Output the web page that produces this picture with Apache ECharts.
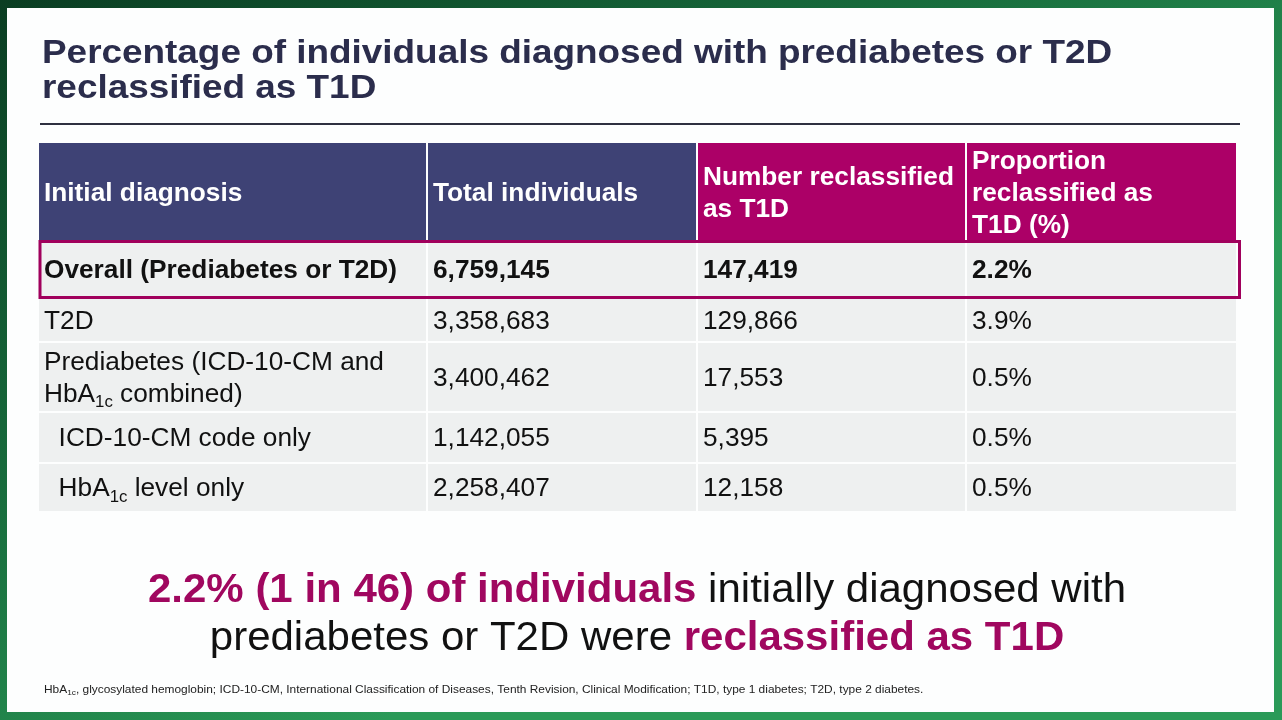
<!DOCTYPE html>
<html>
<head>
<meta charset="utf-8">
<title>Percentage reclassified as T1D</title>
<script src="https://cdn.jsdelivr.net/npm/echarts@6/dist/echarts.min.js"></script>
<style>
  html, body { margin: 0; padding: 0; }
  #chart { width: 1282px; height: 720px; }
</style>
</head>
<body>
<div id="chart"></div>
<script>
(function () {
  'use strict';

  var headers = ['Initial diagnosis', 'Total individuals', 'Number reclassified\nas T1D', 'Proportion\nreclassified as\nT1D (%)'];
  var diagnoses = ['Overall (Prediabetes or T2D)', 'T2D', 'Prediabetes (ICD-10-CM and\nHbA{sub|1c} combined)', '  ICD-10-CM code only', '  HbA{sub|1c} level only'];
  var totals = [6759145, 3358683, 3400462, 1142055, 2258407];
  var reclassified = [147419, 129866, 17553, 5395, 12158];
  var proportions = [2.2, 3.9, 0.5, 0.5, 0.5];
  var highlightRow = 0;

  // table layout, pixels from the table's top-left corner
  var colEdges = [0, 389, 659, 928, 1199];
  var rowEdges = [0, 99, 156, 200, 270, 321, 370];

  var FONT = '"Liberation Sans", Arial, sans-serif';
  var NAVY = '#3e4275';
  var MAGENTA = '#ac0067';
  var TEXT_MAGENTA = '#a0075f';
  // the slide was captured slightly stretched sideways
  var STRETCH = 1.05;

  function fmt(n) {
    return n.toLocaleString('en-US');
  }

  // one entry per cell: [col, row]
  var cells = [];
  headers.forEach(function (h, c) {
    cells.push({ value: [c, 0], text: h, header: true });
  });
  diagnoses.forEach(function (d, i) {
    var row = [d, fmt(totals[i]), fmt(reclassified[i]), proportions[i].toFixed(1) + '%'];
    row.forEach(function (t, c) {
      cells.push({ value: [c, i + 1], text: t, bold: i === highlightRow });
    });
  });

  function cellBox(api, c, r, c2, r2) {
    var p0 = api.coord([colEdges[c], rowEdges[r]]);
    var p1 = api.coord([colEdges[c2], rowEdges[r2]]);
    return {
      x: p0[0],
      y: Math.min(p0[1], p1[1]),
      w: p1[0] - p0[0],
      h: Math.abs(p1[1] - p0[1])
    };
  }

  function renderCell(params, api) {
    var cell = cells[params.dataIndex];
    var c = cell.value[0];
    var r = cell.value[1];
    var b = cellBox(api, c, r, c + 1, r + 1);
    var fill = cell.header ? (c < 2 ? NAVY : MAGENTA) : '#eef0f0';
    var color = cell.header ? '#ffffff' : '#111111';
    var weight = (cell.header || cell.bold) ? 'bold' : 'normal';
    return {
      type: 'group',
      children: [{
        type: 'rect',
        shape: { x: b.x + 1, y: b.y + 1, width: b.w - 2, height: b.h - 2 },
        style: { fill: fill }
      }, {
        type: 'text',
        x: b.x + 6,
        y: b.y + b.h / 2 + (cell.header ? 3 : 2),
        scaleX: STRETCH,
        style: {
          text: cell.text,
          fill: color,
          fontSize: 25,
          fontWeight: weight,
          fontFamily: FONT,
          lineHeight: 32,
          align: 'left',
          verticalAlign: 'middle',
          rich: {
            sub: {
              fontSize: 16,
              fontFamily: FONT,
              fill: color,
              lineHeight: 16,
              verticalAlign: 'bottom'
            }
          }
        }
      }]
    };
  }

  function renderHighlight(params, api) {
    var r = api.value(0) + 1;
    var b = cellBox(api, 0, r, colEdges.length - 1, r + 1);
    return {
      type: 'rect',
      shape: { x: b.x + 2, y: b.y + 0.5, width: b.w + 0.5, height: b.h - 1 },
      style: { fill: null, stroke: '#a0005c', lineWidth: 3 }
    };
  }

  var statement = '{m|2.2% (1 in 46) of individuals} {n|initially diagnosed with}\n' +
    '{n|prediabetes or T2D were} {m|reclassified as T1D}';

  var footnote = 'HbA{s|1c}, glycosylated hemoglobin; ICD-10-CM, International Classification of Diseases, ' +
    'Tenth Revision, Clinical Modification; T1D, type 1 diabetes; T2D, type 2 diabetes.';

  var option = {
    animation: false,
    backgroundColor: {
      type: 'linear', x: 0, y: 0, x2: 0.3, y2: 1,
      colorStops: [
        { offset: 0, color: '#0a3d22' },
        { offset: 0.5, color: '#17693b' },
        { offset: 1, color: '#2a9a58' }
      ]
    },
    grid: { left: 38, top: 142, width: colEdges[4], height: rowEdges[6] },
    xAxis: { type: 'value', min: 0, max: colEdges[4], show: false },
    yAxis: { type: 'value', min: 0, max: rowEdges[6], inverse: true, show: false },
    graphic: [{
      type: 'rect',
      shape: { x: 7, y: 8, width: 1267, height: 704 },
      style: { fill: '#fdfefe' }
    }, {
      type: 'text',
      x: 42,
      y: 71.5,
      scaleX: 1.118,
      style: {
        text: 'Percentage of individuals diagnosed with prediabetes or T2D\nreclassified as T1D',
        fill: '#2b2d4c',
        fontSize: 33,
        fontWeight: 'bold',
        fontFamily: FONT,
        lineHeight: 34.5,
        verticalAlign: 'middle'
      }
    }, {
      type: 'line',
      shape: { x1: 40, y1: 124, x2: 1240, y2: 124 },
      style: { stroke: '#2e3040', lineWidth: 2 }
    }, {
      type: 'text',
      x: 637,
      y: 615,
      scaleX: STRETCH,
      style: {
        text: statement,
        align: 'center',
        verticalAlign: 'middle',
        fontSize: 40,
        fontFamily: FONT,
        fill: '#111111',
        lineHeight: 48,
        rich: {
          m: { fontSize: 40, fontFamily: FONT, fontWeight: 'bold', fill: TEXT_MAGENTA, lineHeight: 48 },
          n: { fontSize: 40, fontFamily: FONT, fill: '#111111', lineHeight: 48 }
        }
      }
    }, {
      type: 'text',
      x: 44,
      y: 690,
      scaleX: 1.035,
      style: {
        text: footnote,
        fontSize: 11.5,
        fontFamily: FONT,
        fill: '#222222',
        lineHeight: 14,
        verticalAlign: 'middle',
        rich: {
          s: { fontSize: 8, fontFamily: FONT, fill: '#222222', lineHeight: 8, verticalAlign: 'bottom' }
        }
      }
    }],
    series: [{
      type: 'custom',
      renderItem: renderCell,
      data: cells.map(function (cell) { return cell.value; }),
      z: 2
    }, {
      type: 'custom',
      renderItem: renderHighlight,
      data: [[highlightRow]],
      z: 3
    }]
  };

  var myChart = echarts.init(document.getElementById('chart'));
  myChart.setOption(option);
}());
</script>
</body>
</html>
